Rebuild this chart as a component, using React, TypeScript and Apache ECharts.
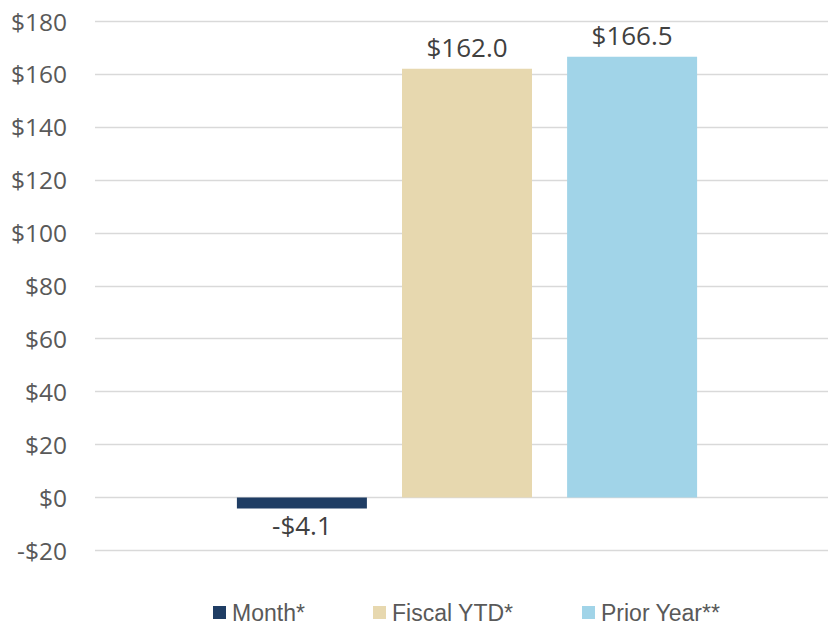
import React, { useEffect, useRef } from "react";
import * as echarts from "echarts";

const categories = [""];
const seriesNames = ["Month*", "Fiscal YTD*", "Prior Year**"];
const seriesValues = [-4.1, 162.0, 166.5];
const seriesColors = ["#1F3D64", "#E7D8AF", "#A1D4E8"];
const yTicks = { min: -20, max: 180, interval: 20 };

const money = (v: number, d: number) =>
  (v < 0 ? "-$" : "$") + Math.abs(v).toFixed(d);

export default function App() {
  const ref = useRef<HTMLDivElement>(null);
  useEffect(() => {
    if (!ref.current) return;
    const chart = echarts.init(ref.current, undefined, { renderer: "svg" });
    const legendLefts = [213, 373, 582];
    chart.setOption({
      animation: false,
      grid: [
        { left: 95, top: 21, height: 529.5, right: 0 },
        { left: 106, top: 21, height: 529.5, right: 0 },
      ],
      legend: seriesNames.map((n, i) => ({
        data: [n],
        left: legendLefts[i],
        top: 601,
        padding: 0,
        itemWidth: 13,
        itemHeight: 13,
        itemGap: 6,
        icon: "rect",
        textStyle: { fontFamily: "Liberation Sans", fontSize: 23, color: "#595959", padding: [0, 0, 0, 1] },
      })),
      xAxis: [
        {
          type: "category",
          gridIndex: 0,
          data: categories,
          axisLine: { show: false },
          axisTick: { show: false },
          axisLabel: { show: false },
        },
        {
          type: "category",
          gridIndex: 1,
          data: categories,
          axisLine: { show: false },
          axisTick: { show: false },
          axisLabel: { show: false },
        },
      ],
      yAxis: [
        {
          type: "value",
          gridIndex: 0,
          min: yTicks.min,
          max: yTicks.max,
          interval: yTicks.interval,
          axisLine: { show: false },
          axisTick: { show: false },
          splitLine: { lineStyle: { color: "#D9D9D9", width: 1.3 } },
          axisLabel: {
            margin: 28,
            fontFamily: "Open Sans",
            fontSize: 24.5,
            color: "#595959",
            formatter: (v: number) => money(v, 0),
          },
        },
        {
          type: "value",
          gridIndex: 1,
          min: yTicks.min,
          max: yTicks.max,
          interval: yTicks.interval,
          axisLine: { show: false },
          axisTick: { show: false },
          splitLine: { show: false },
          axisLabel: { show: false },
        },
      ],
      series: seriesNames.map((n, i) => ({
        name: n,
        type: "bar",
        xAxisIndex: 1,
        yAxisIndex: 1,
        data: [seriesValues[i]],
        barWidth: 130,
        barGap: "27%",
        itemStyle: { color: seriesColors[i] },
        label: {
          show: true,
          position: seriesValues[i] < 0 ? "bottom" : "top",
          distance: seriesValues[i] < 0 ? 4 : 9,
          fontFamily: "Open Sans",
          fontSize: 26,
          color: "#404040",
          formatter: (p: any) => money(p.value, 1),
        },
      })),
    });
    return () => chart.dispose();
  }, []);
  return <div ref={ref} style={{ width: 828, height: 628, position: "absolute", left: 0, top: 0 }} />;
}
